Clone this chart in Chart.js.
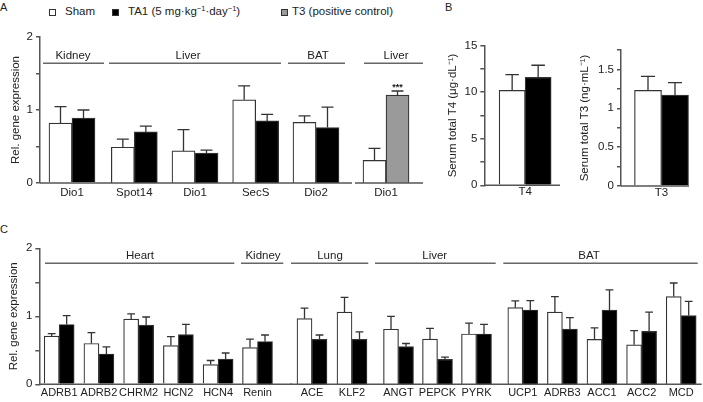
<!DOCTYPE html>
<html><head><meta charset="utf-8">
<script src="https://cdn.jsdelivr.net/npm/chart.js@4.4.0/dist/chart.umd.min.js"></script>
<style>
html,body{margin:0;padding:0;background:#fff;}
#fig{position:relative;width:703px;height:402px;overflow:hidden;font-family:"Liberation Sans",Arial,sans-serif;color:#222;}
.txt{position:absolute;font-size:11.5px;line-height:13px;white-space:nowrap;}
.pl{position:absolute;font-size:11px;line-height:12px;}
.box{position:absolute;width:5px;height:5px;border:1px solid #333;}
.txt sup{font-size:7.5px;line-height:0;vertical-align:4px;}
canvas{position:absolute;}
</style></head>
<body><div id="fig">
<div class="pl" style="left:0px;top:1px">A</div>
<div class="pl" style="left:445px;top:1px">B</div>
<div class="pl" style="left:0px;top:223px">C</div>
<div class="box" style="left:49px;top:9px;background:#fff"></div>
<div class="txt" style="left:65px;top:5px">Sham</div>
<div class="box" style="left:112px;top:9px;background:#000"></div>
<div class="txt" style="left:128px;top:5px">TA1 (5 mg·kg<sup>−1</sup>·day<sup>−1</sup>)</div>
<div class="box" style="left:281px;top:9px;background:#9a9a9a"></div>
<div class="txt" style="left:292px;top:5px">T3 (positive control)</div>
</div>
<script>
// ---------- DATA ----------
// Panel A
const aGenes    = ['Dio1', 'Spot14', 'Dio1', 'SecS', 'Dio2', 'Dio1'];
const aTissues  = ['Kidney', 'Liver', 'Liver', 'Liver', 'BAT', 'Liver'];
const aSham     = [0.82, 0.49, 0.44, 1.14, 0.83, 0.31];
const aShamErr  = [0.225, 0.11, 0.29, 0.19, 0.09, 0.165];
const aTA1      = [0.89, 0.70, 0.41, 0.85, 0.76, null];
const aTA1Err   = [0.11, 0.08, 0.04, 0.09, 0.28, null];
const aT3       = [null, null, null, null, null, 1.205];
const aT3Err    = [null, null, null, null, null, 0.055];
const aT3Signif = ['', '', '', '', '', '***'];
const aYTitle   = 'Rel. gene expression';
const aYTicks   = [0, 1, 2];

// Panel B
const bLabels   = ['T4', 'T3'];
const bSham     = [10.2, 1.23];
const bShamErr  = [1.7, 0.18];
const bTA1      = [11.6, 1.17];
const bTA1Err   = [1.3, 0.16];
const bYTitles  = ['Serum total T4 (μg·dL⁻¹)', 'Serum total T3 (ng·mL⁻¹)'];
const bT4Ticks  = [0, 5, 10, 15];
const bT3Ticks  = [0, 0.5, 1, 1.5];

// Panel C
const cGenes    = ['ADRB1', 'ADRB2', 'CHRM2', 'HCN2', 'HCN4', 'Renin', 'ACE', 'KLF2',
                   'ANGT', 'PEPCK', 'PYRK', 'UCP1', 'ADRB3', 'ACC1', 'ACC2', 'MCD'];
const cTissues  = ['Heart', 'Heart', 'Heart', 'Heart', 'Heart', 'Kidney', 'Lung', 'Lung',
                   'Liver', 'Liver', 'Liver', 'BAT', 'BAT', 'BAT', 'BAT', 'BAT'];
const cSham     = [0.71, 0.60, 0.96, 0.57, 0.29, 0.54, 0.965, 1.063, 0.81, 0.666, 0.74, 1.127, 1.063, 0.66, 0.58, 1.29];
const cShamErr  = [0.035, 0.16, 0.075, 0.13, 0.06, 0.125, 0.155, 0.215, 0.19, 0.155, 0.16, 0.10, 0.225, 0.17, 0.21, 0.20];
const cTA1      = [0.88, 0.446, 0.87, 0.73, 0.37, 0.63, 0.66, 0.66, 0.553, 0.367, 0.74, 1.093, 0.813, 1.09, 0.78, 1.01];
const cTA1Err   = [0.13, 0.105, 0.12, 0.15, 0.09, 0.095, 0.065, 0.11, 0.047, 0.033, 0.14, 0.137, 0.167, 0.30, 0.28, 0.21];
const cYTitle   = 'Rel. gene expression';
const cYTicks   = [0, 1, 2];

// ---------- STYLE / LAYOUT ----------
const FONT = '"Liberation Sans", Arial, sans-serif';
const FS = 11.5;
const AXIS = '#555';
const TXT = '#222';
const FILL = { sham: '#ffffff', ta1: '#000000', t3: '#9a9a9a' };

const panelA = {
  labels: aGenes, tissues: aTissues, yTitle: aYTitle, yTicks: aYTicks,
  series: [
    { name: 'Sham', values: aSham, errors: aShamErr, fill: FILL.sham },
    { name: 'TA1', values: aTA1, errors: aTA1Err, fill: FILL.ta1 },
    { name: 'T3', values: aT3, errors: aT3Err, fill: FILL.t3, marks: aT3Signif }
  ],
  y: { max: 2, step: 0.5 }, top: 25, height: 180, areaT: 37, areaB: 183, barW: 23, groupValue: 1.64, tickPad: 3, xFS: 11.5
};
const panelC = {
  labels: cGenes, tissues: cTissues, yTitle: cYTitle, yTicks: cYTicks,
  series: [
    { name: 'Sham', values: cSham, errors: cShamErr, fill: FILL.sham },
    { name: 'TA1', values: cTA1, errors: cTA1Err, fill: FILL.ta1 }
  ],
  y: { max: 2, step: 0.5 }, top: 235, height: 167, areaT: 248.3, areaB: 384.3, barW: 15, groupValue: 1.78, tickPad: 2, xFS: 11
};
const panelBT4 = {
  labels: bLabels, tissues: null, yTitle: bYTitles[0], yTicks: bT4Ticks,
  series: [
    { name: 'Sham', values: bSham, errors: bShamErr, fill: FILL.sham },
    { name: 'TA1', values: bTA1, errors: bTA1Err, fill: FILL.ta1 }
  ],
  y: { max: 15, step: 2.5 }, top: 30, height: 176, areaT: 45.7, areaB: 185.3, barW: 26, tickPad: 0, xFS: 11.5
};
const panelBT3 = Object.assign({}, panelBT4, {
  yTitle: bYTitles[1], yTicks: bT3Ticks, y: { max: 1.75, step: 0.25 }, areaT: 50, areaB: 186, barW: 27
});

const charts = [
  [panelA, { idx: [0], left: 0, width: 104, area: [40, 104], base: [40, 104], group: { line: [43, 104], labelX: 73 }, yAxis: true, titleCx: 15.5 }],
  [panelA, { idx: [1, 2, 3], left: 104, width: 182, area: [104, 286], base: [104, 286], group: { line: [109, 281], labelX: 188 } }],
  [panelA, { idx: [4], left: 286, width: 66, area: [286, 346], base: [286, 352], group: { line: [288, 345], labelX: 318 } }],
  [panelA, { idx: [5], left: 354, width: 69, area: [354, 418], base: [355, 423], group: { line: [364, 423], labelX: 396 } }],
  [panelBT4, { idx: [0], left: 440, width: 130, area: [484.3, 566], base: [484.3, 560], yAxis: true, titleCx: 453 }],
  [panelBT3, { idx: [1], left: 570, width: 133, area: [621, 702], base: [621, 689], yAxis: true, titleCx: 585 }],
  [panelC, { idx: [0, 1, 2, 3, 4], left: 0, width: 238, area: [39.3, 238], base: [39.3, 238], group: { line: [45, 234.3], labelX: 140 }, yAxis: true, titleCx: 14 }],
  [panelC, { idx: [5], left: 238, width: 54, area: [238, 277], base: [238, 292], group: { line: [241, 283.3], labelX: 263 } }],
  [panelC, { idx: [6, 7], left: 290, width: 82, area: [292, 372], base: [290, 372], group: { line: [291, 368.3], labelX: 330 } }],
  [panelC, { idx: [8, 9, 10], left: 372, width: 128, area: [379, 496], base: [372, 500], group: { line: [375, 495.7], labelX: 434.7 } }],
  [panelC, { idx: [11, 12, 13, 14, 15], left: 500, width: 202, area: [503, 701], base: [500, 701.7], group: { line: [503.3, 697.7], labelX: 589 } }]
];

function decorPlugin(panel, lay) {
  return {
    id: 'decor',
    afterDatasetsDraw(chart) {
      const ctx = chart.ctx, ys = chart.scales.y;
      ctx.save();
      chart.data.datasets.forEach((ds, di) => {
        const meta = chart.getDatasetMeta(di);
        meta.data.forEach((bar, i) => {
          const v = ds.data[i], e = ds.errors[i];
          if (v == null || e == null) return;
          const yv = ys.getPixelForValue(v), ye = ys.getPixelForValue(v + e);
          const half = bar.width * 0.26;
          ctx.strokeStyle = '#333';
          ctx.lineWidth = 1.3;
          ctx.beginPath();
          ctx.moveTo(bar.x, yv); ctx.lineTo(bar.x, ye);
          ctx.moveTo(bar.x - half, ye); ctx.lineTo(bar.x + half, ye);
          ctx.stroke();
          if (ds.marks && ds.marks[i]) {
            ctx.fillStyle = TXT;
            ctx.font = 'bold 9px ' + FONT;
            ctx.textAlign = 'center';
            ctx.textBaseline = 'middle';
            ctx.fillText(ds.marks[i], bar.x, ye - 4);
          }
        });
      });
      ctx.restore();
    },
    afterDraw(chart) {
      const ctx = chart.ctx, ys = chart.scales.y;
      ctx.save();
      const y0 = ys.getPixelForValue(0);
      ctx.strokeStyle = AXIS;
      ctx.lineWidth = 1.5;
      ctx.beginPath();
      ctx.moveTo(lay.base[0] - lay.left, y0);
      ctx.lineTo(lay.base[1] - lay.left, y0);
      ctx.stroke();
      if (lay.group && panel.tissues) {
        const gy = ys.getPixelForValue(panel.groupValue);
        ctx.strokeStyle = '#666';
        ctx.lineWidth = 1.4;
        ctx.beginPath();
        ctx.moveTo(lay.group.line[0] - lay.left, gy);
        ctx.lineTo(lay.group.line[1] - lay.left, gy);
        ctx.stroke();
        ctx.fillStyle = TXT;
        ctx.font = FS + 'px ' + FONT;
        ctx.textAlign = 'center';
        ctx.textBaseline = 'middle';
        ctx.fillText(panel.tissues[lay.idx[0]], lay.group.labelX - lay.left, gy - 7.5);
      }
      ctx.restore();
    }
  };
}

const fig = document.getElementById('fig');
charts.forEach(([panel, lay]) => {
  const cv = document.createElement('canvas');
  cv.width = lay.width; cv.height = panel.height;
  cv.style.left = lay.left + 'px'; cv.style.top = panel.top + 'px';
  cv.style.width = lay.width + 'px'; cv.style.height = panel.height + 'px';
  fig.appendChild(cv);

  const titleHalf = FS * 1.2 / 2 + 4;
  const padLeft = lay.yAxis ? (lay.titleCx - lay.left - titleHalf) : (lay.area[0] - lay.left);
  const yW = lay.yAxis ? (lay.area[0] - lay.left - padLeft) : 0;
  const padRight = lay.left + lay.width - lay.area[1];
  const padTop = panel.areaT - panel.top;
  const xH = panel.top + panel.height - panel.areaB;

  const datasets = panel.series
    .filter(s => lay.idx.some(i => s.values[i] != null))
    .map(s => ({
      label: s.name,
      data: lay.idx.map(i => s.values[i]),
      errors: lay.idx.map(i => s.errors[i]),
      marks: s.marks ? lay.idx.map(i => s.marks[i]) : null,
      backgroundColor: s.fill,
      borderColor: '#333',
      borderWidth: 1.2,
      barThickness: panel.barW
    }));

  new Chart(cv, {
    type: 'bar',
    data: { labels: lay.idx.map(i => panel.labels[i]), datasets },
    options: {
      responsive: false, animation: false, devicePixelRatio: 1,
      layout: { padding: { left: padLeft, right: padRight, top: padTop, bottom: 0 } },
      plugins: { legend: { display: false }, tooltip: { enabled: false } },
      scales: {
        x: {
          type: 'category',
          grid: { display: false, drawTicks: false },
          border: { display: false },
          ticks: { font: { family: FONT, size: panel.xFS }, color: TXT, padding: panel.tickPad, maxRotation: 0, minRotation: 0, autoSkip: false },
          afterFit: s => { s.height = xH; }
        },
        y: {
          display: !!lay.yAxis,
          min: 0, max: panel.y.max,
          border: { display: true, color: AXIS, width: 1.5 },
          grid: { display: true, drawOnChartArea: false, drawTicks: true, tickLength: 4, color: AXIS, lineWidth: 1.5 },
          ticks: {
            stepSize: panel.y.step,
            font: { family: FONT, size: FS }, color: TXT, padding: 3,
            callback: v => panel.yTicks.some(t => Math.abs(t - v) < 1e-6) ? String(v) : ''
          },
          title: { display: true, text: panel.yTitle, font: { family: FONT, size: FS }, color: TXT, padding: { top: 4, bottom: 4 } },
          afterFit: s => { s.width = yW; }
        }
      }
    },
    plugins: [decorPlugin(panel, lay)]
  });
});
</script>
</body></html>
